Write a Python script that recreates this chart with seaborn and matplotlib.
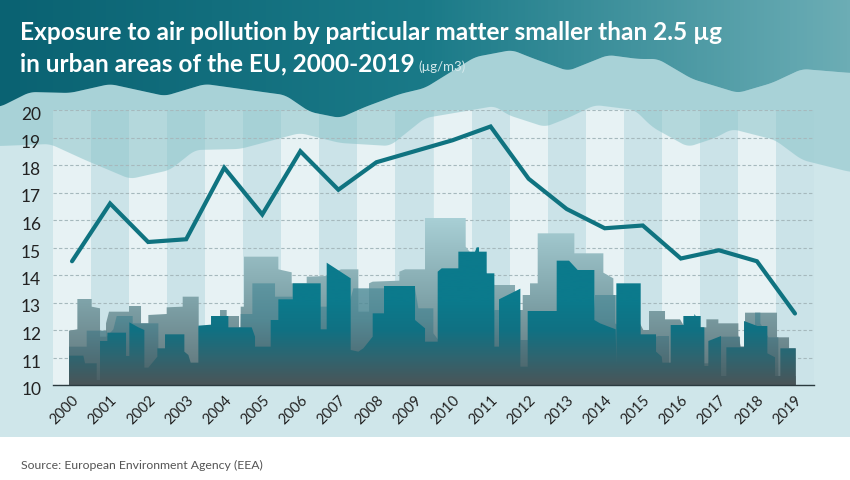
import numpy as np
import matplotlib
matplotlib.use("Agg")
import matplotlib.pyplot as plt
import seaborn as sns
from matplotlib.colors import LinearSegmentedColormap
from matplotlib.patches import Polygon, Rectangle
from matplotlib.transforms import ScaledTranslation

# PM2.5 exposure
years = list(range(2000, 2020))
pm25 = [14.5, 16.6, 15.2, 15.3, 17.9, 16.2, 18.5, 17.1, 18.1, 18.5,
        18.9, 19.4, 17.5, 16.4, 15.7, 15.8, 14.6, 14.9, 14.5, 12.6]
y_ticks = list(range(10, 21))

# decoration only: wave edges in picture pixels
wave_top_x = [0, 30, 70, 110, 165, 205, 270, 285, 310, 340, 365, 400, 425, 475, 512, 532, 568, 608, 638, 658, 692, 738, 772, 802, 850]
wave_top_y = [107, 92, 93, 84, 96, 84, 93, 95, 112, 118, 107, 94, 88, 57, 50, 58, 71, 55, 59, 59, 79, 93, 83, 69, 73]
wave_low_x = [0, 50, 85, 130, 170, 195, 240, 300, 340, 390, 410, 425, 472, 495, 508, 545, 568, 595, 635, 652, 688, 715, 732, 775, 802, 850]
wave_low_y = [146, 144, 160, 179, 170, 150, 149, 133, 143, 146, 130, 118, 110, 106, 115, 127, 118, 105, 110, 127, 147, 138, 129, 140, 160, 172]

# decoration only: skyline outlines, thirds of a pixel, y counted from pixel row 240
front_left = [(207, 347), (250, 347), (255, 370), (290, 370), (290, 420), (300, 420), (300, 303), (322, 303), (322, 278), (378, 278), (378, 348), (388, 348), (388, 247), (415, 262), (433, 270), (433, 383), (445, 383), (472, 350), (472, 325), (495, 325), (495, 283), (553, 283), (553, 335), (565, 345), (572, 368), (595, 368), (595, 257), (633, 254), (633, 228), (685, 228), (685, 262), (755, 262), (765, 290), (765, 320), (812, 320), (812, 240), (835, 240), (835, 178), (878, 178), (878, 130), (962, 130), (962, 268), (980, 268), (980, 68), (1052, 115), (1052, 330), (1075, 335), (1090, 325), (1118, 290), (1118, 220), (1152, 220), (1152, 138), (1245, 138), (1245, 240), (1275, 265)]
front_right = [(0, 305), (38, 305), (38, 95), (50, 85), (100, 85), (100, 35), (150, 35), (155, 22), (162, 22), (162, 35), (185, 35), (185, 100), (208, 100), (208, 320), (222, 320), (222, 178), (286, 146), (286, 380), (308, 380), (308, 213), (395, 213), (395, 62), (432, 62), (458, 90), (508, 90), (508, 240), (525, 250), (572, 268), (574, 380), (574, 130), (647, 130), (647, 283), (693, 283), (693, 335), (710, 350), (712, 368), (737, 368), (737, 255), (775, 255), (775, 228), (808, 228), (808, 222), (812, 228), (827, 228), (827, 262), (838, 262), (838, 378), (850, 378), (850, 303), (888, 288), (888, 408), (904, 408), (904, 322), (957, 322), (957, 243), (997, 258), (1027, 258), (1027, 340), (1050, 352), (1050, 408), (1066, 408), (1066, 325), (1112, 325)]
mid_left = [(207, 320), (260, 320), (260, 272), (320, 272), (320, 290), (340, 268), (350, 228), (398, 228), (398, 250), (475, 250), (475, 370), (720, 370), (722, 222), (757, 222), (757, 130), (825, 130), (825, 170), (878, 170), (878, 200), (1045, 200), (1060, 145), (1245, 145), (1255, 205), (1275, 205)]
mid_right = [(0, 205), (25, 205), (25, 280), (40, 300), (200, 300), (208, 210), (286, 210), (286, 300), (500, 300), (510, 165), (570, 165), (570, 250), (650, 300), (700, 288), (732, 288), (732, 370), (850, 370), (888, 290), (945, 290), (945, 320), (990, 320), (990, 218), (1006, 218), (1006, 250), (1030, 292), (1060, 292), (1060, 408), (1066, 408), (1112, 408)]
back_left = [(207, 272), (232, 268), (232, 177), (275, 177), (275, 200), (300, 205), (300, 290), (318, 290), (318, 250), (327, 215), (387, 215), (387, 198), (423, 198), (423, 250), (445, 250), (445, 225), (500, 222), (500, 202), (548, 200), (548, 170), (596, 170), (596, 262), (660, 262), (660, 210), (680, 210), (680, 228), (717, 228), (717, 262), (722, 262), (722, 200), (732, 200), (732, 50), (835, 50), (835, 88), (875, 97), (875, 130), (920, 130), (920, 110), (980, 108), (1023, 88), (1075, 88), (1075, 215), (1107, 215), (1107, 130), (1118, 125), (1198, 122), (1198, 95), (1215, 88), (1275, 88)]
back_right = [(0, -66), (122, -66), (122, 20), (185, 100), (208, 135), (270, 135), (270, 210), (293, 210), (293, 165), (315, 165), (315, 130), (338, 130), (338, -20), (448, -20), (448, 40), (535, 40), (535, 98), (565, 115), (565, 165), (600, 165), (655, 270), (672, 270), (672, 213), (720, 213), (720, 238), (765, 238), (775, 255), (838, 262), (844, 262), (844, 238), (880, 238), (880, 250), (940, 250), (940, 285), (947, 320), (960, 320), (960, 218), (1056, 218), (1056, 292), (1092, 292), (1092, 325), (1112, 325)]

sns.set_theme(style="white")
plt.rcParams["font.family"] = ["Lato", "DejaVu Sans"]

fig = plt.figure(figsize=(8.5, 4.8), dpi=100)
fig.patch.set_facecolor("white")
fig.patches.append(Rectangle((0, 1 - 437 / 480), 1, 437 / 480, transform=fig.transFigure, facecolor="#cfe6ea", edgecolor="none", zorder=-1))

ax = fig.add_axes([53 / 850, 1 - 385 / 480, 761 / 850, 275 / 480])
ax.patch.set_visible(False)


def px_to_year(px):
    return 2000 + (np.asarray(px, dtype=float) - 72) / 38.05


def px_to_val(py):
    return 10 + (385 - np.asarray(py, dtype=float)) / 27.5


def smooth_wave(xs, ys, win=13):
    grid = np.arange(-20, 871)
    dense = np.interp(grid, xs, ys)
    padded = np.pad(dense, win, mode="edge")
    return grid, np.convolve(padded, np.ones(win) / win, mode="same")[win:-win]


def gradient_fill(points, stops, extent, z, horizontal=False, alpha=None):
    poly = Polygon(points, closed=True, transform=ax.transData, facecolor="none", edgecolor="none")
    ax.add_patch(poly)
    cmap = LinearSegmentedColormap.from_list("g", stops)
    ramp = np.linspace(0, 1, 256)
    ramp = ramp.reshape(1, -1) if horizontal else ramp.reshape(-1, 1)
    im = ax.imshow(ramp, cmap=cmap, extent=extent, origin="lower", aspect="auto", zorder=z, alpha=alpha)
    im.set_clip_path(poly)
    im.set_clip_box(fig.bbox)


def city(left, right):
    pts = list(left) + [(x + 1275, y) for x, y in right]
    xs = np.array([p[0] for p in pts]) / 3
    ys = 240 + np.array([p[1] for p in pts]) / 3
    xs = np.concatenate([[xs[0]], xs, [xs[-1]]])
    ys = np.concatenate([[385], ys, [385]])
    return np.column_stack([px_to_year(xs), px_to_val(ys)])


# year bands
for yr in years:
    if yr % 2 == 0:
        ax.axvspan(yr - 0.5, yr + 0.5, facecolor="white", alpha=0.5, edgecolor="none", zorder=0.5)
    else:
        ax.axvspan(yr - 0.5, yr + 0.5, facecolor="#5fa5af", alpha=0.03, edgecolor="none", zorder=0.5)

# waves
gx, top_edge = smooth_wave(wave_top_x, wave_top_y)
_, low_edge = smooth_wave(wave_low_x, wave_low_y)
ax.fill_between(px_to_year(gx), px_to_val(top_edge), px_to_val(low_edge), color="#83c0c6", alpha=0.5, linewidth=0, zorder=1, clip_on=False)

dark_poly = np.column_stack([px_to_year(np.r_[gx, 870, -20]), px_to_val(np.r_[top_edge, -5, -5])])
gradient_fill(dark_poly, ["#0a6272", "#1a7a88", "#6cadb5"], [px_to_year(0), px_to_year(850), px_to_val(130), px_to_val(-5)], 2.2, horizontal=True)

# skyline
gradient_fill(city(back_left, back_right), ["#5c7075", "#7fa3a9", "#a9d0d6"], [1999.5, 2019.5, 10, 16.1], 1.6)
gradient_fill(city(mid_left, mid_right), ["#4a5b60", "#4e8793", "#5f9ca8"], [1999.5, 2019.5, 10, 14.8], 1.7, alpha=0.85)
gradient_fill(city(front_left, front_right), ["#4b5558", "#2f6570", "#107183", "#0b7a8c", "#0b7a8c", "#0b7a8c"], [1999.5, 2019.5, 10, 15.0], 2)

sns.lineplot(x=years, y=pm25, color="#0f7380", linewidth=3.0, ax=ax, zorder=3)
ax.get_lines()[-1].set_solid_joinstyle("miter")

ax.set_xlim(1999.5, 2019.5)
ax.set_ylim(10, 20)
ax.set_xticks(years)
ax.set_xticklabels(years, rotation=45, ha="right", rotation_mode="anchor", fontsize=10.5, color="#222222")
ax.set_yticks(y_ticks)
ax.set_yticklabels(y_ticks, fontsize=12.5, color="#222222")
ax.tick_params(axis="x", length=0, pad=6)
ax.tick_params(axis="y", length=0, pad=8.5)
for lab in ax.get_yticklabels():
    lab.set_transform(lab.get_transform() + ScaledTranslation(0, -3.5 / 100, fig.dpi_scale_trans))

ax.set_axisbelow("line")
ax.grid(axis="y", color="#a6b9bd", linewidth=0.8, linestyle=(0, (3, 2)))
ax.grid(axis="x", visible=False)
for side in ["top", "left", "right"]:
    ax.spines[side].set_visible(False)
ax.spines["bottom"].set_color("#2b3a3f")
ax.spines["bottom"].set_linewidth(1.0)
ax.spines["bottom"].set_zorder(2.5)
ax.set_xlabel("")
ax.set_ylabel("")

fig.text(20 / 850, 1 - 40 / 480, "Exposure to air pollution by particular matter smaller than 2.5 µg", color="white", fontsize=17.6, fontweight="bold", ha="left", va="baseline")
fig.text(20 / 850, 1 - 71 / 480, "in urban areas of the EU, 2000-2019", color="white", fontsize=17.6, fontweight="bold", ha="left", va="baseline")
fig.text(418 / 850, 1 - 71 / 480, "(µg/m3)", color="#d5e9ec", fontsize=9.5, ha="left", va="baseline")
fig.text(21 / 850, 1 - 469 / 480, "Source: European Environment Agency (EEA)", color="#555555", fontsize=8.8, ha="left", va="baseline")

fig.savefig("out.png", dpi=100)
